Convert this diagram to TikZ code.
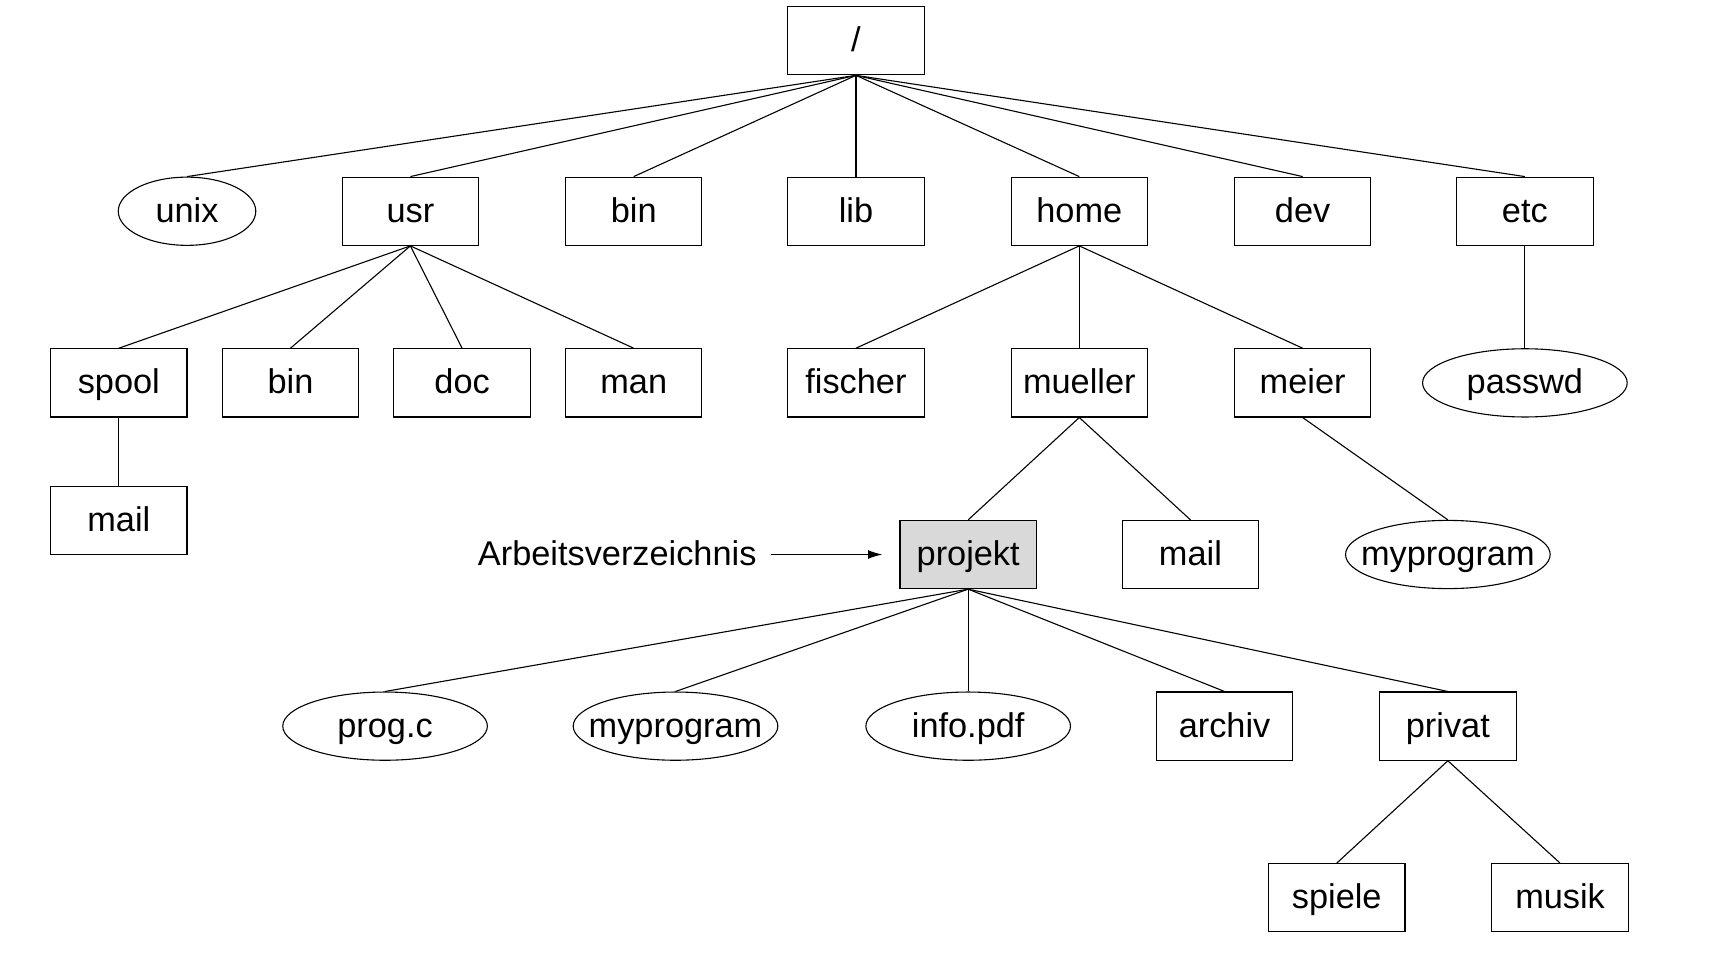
\documentclass[tikz,border=0pt]{standalone}
\usepackage{fontspec}
\setmainfont{Liberation Sans}
\usetikzlibrary{shapes.geometric,arrows.meta}
\tikzset{
  every node/.style={font=\fontsize{15.6}{18}\selectfont, text height=1.0em, text depth=0pt, inner sep=0pt},
  dirbox/.style={draw, line width=0.5pt, rectangle, minimum width=62pt, minimum height=31pt},
  filebig/.style={draw, line width=0.5pt, ellipse, minimum width=93pt, minimum height=31pt},
  filesmall/.style={draw, line width=0.5pt, ellipse, minimum width=62.5pt, minimum height=31pt},
  cwd/.style={dirbox, fill=black!15},
  edge/.style={draw, line width=0.5pt},
}
\newcommand{\nt}[1]{\makebox[0pt]{#1}}
\begin{document}
\begin{tikzpicture}[x=0.5pt, y=-0.5pt]
\useasboundingbox (0,0) rectangle (1567,873);
% root
\node[dirbox] (root) at (778,37) {\nt{/}};
% level 1
\node[filesmall] (unix) at (170,192) {\nt{unix}};
\node[dirbox] (usr) at (373,192) {\nt{usr}};
\node[dirbox] (bin) at (576,192) {\nt{bin}};
\node[dirbox] (lib) at (778,192) {\nt{lib}};
\node[dirbox] (home) at (981,192) {\nt{home}};
\node[dirbox] (dev) at (1184,192) {\nt{dev}};
\node[dirbox] (etc) at (1386,192) {\nt{etc}};
% level 2
\node[dirbox] (spool) at (108,348) {\nt{spool}};
\node[dirbox] (ubin) at (264,348) {\nt{bin}};
\node[dirbox] (doc) at (420,348) {\nt{doc}};
\node[dirbox] (man) at (576,348) {\nt{man}};
\node[dirbox] (fischer) at (778,348) {\nt{fischer}};
\node[dirbox] (mueller) at (981,348) {\nt{mueller}};
\node[dirbox] (meier) at (1184,348) {\nt{meier}};
\node[filebig] (passwd) at (1386,348) {\nt{passwd}};
% level 3
\node[dirbox] (smail) at (108,473) {\nt{mail}};
\node[cwd] (projekt) at (880,504) {\nt{projekt}};
\node[dirbox] (mmail) at (1082,504) {\nt{mail}};
\node[filebig] (meprog) at (1316,504) {\nt{myprogram}};
\node (arb) at (561,504) {Arbeitsverzeichnis};
\coordinate (arbstart) at (701,504);
\coordinate (arbend) at (802,504);
% level 4
\node[filebig] (progc) at (350,660) {\nt{prog.c}};
\node[filebig] (pprog) at (614,660) {\nt{myprogram}};
\node[filebig] (info) at (880,660) {\nt{info.pdf}};
\node[dirbox] (archiv) at (1113,660) {\nt{archiv}};
\node[dirbox] (privat) at (1316,660) {\nt{privat}};
% level 5
\node[dirbox] (spiele) at (1215,816) {\nt{spiele}};
\node[dirbox] (musik) at (1418,816) {\nt{musik}};
% edges
\foreach \c in {unix,usr,bin,lib,home,dev,etc}
  \draw[edge] (root.south) -- (\c.north);
\foreach \c in {spool,ubin,doc,man}
  \draw[edge] (usr.south) -- (\c.north);
\foreach \c in {fischer,mueller,meier}
  \draw[edge] (home.south) -- (\c.north);
\draw[edge] (etc.south) -- (passwd.north);
\draw[edge] (spool.south) -- (smail.north);
\draw[edge] (mueller.south) -- (projekt.north);
\draw[edge] (mueller.south) -- (mmail.north);
\draw[edge] (meier.south) -- (meprog.north);
\foreach \c in {progc,pprog,info,archiv,privat}
  \draw[edge] (projekt.south) -- (\c.north);
\draw[edge] (privat.south) -- (spiele.north);
\draw[edge] (privat.south) -- (musik.north);
\draw[line width=0.5pt, -{Latex[length=6.5pt,width=4pt]}] (arbstart) -- (arbend);
\end{tikzpicture}
\end{document}
